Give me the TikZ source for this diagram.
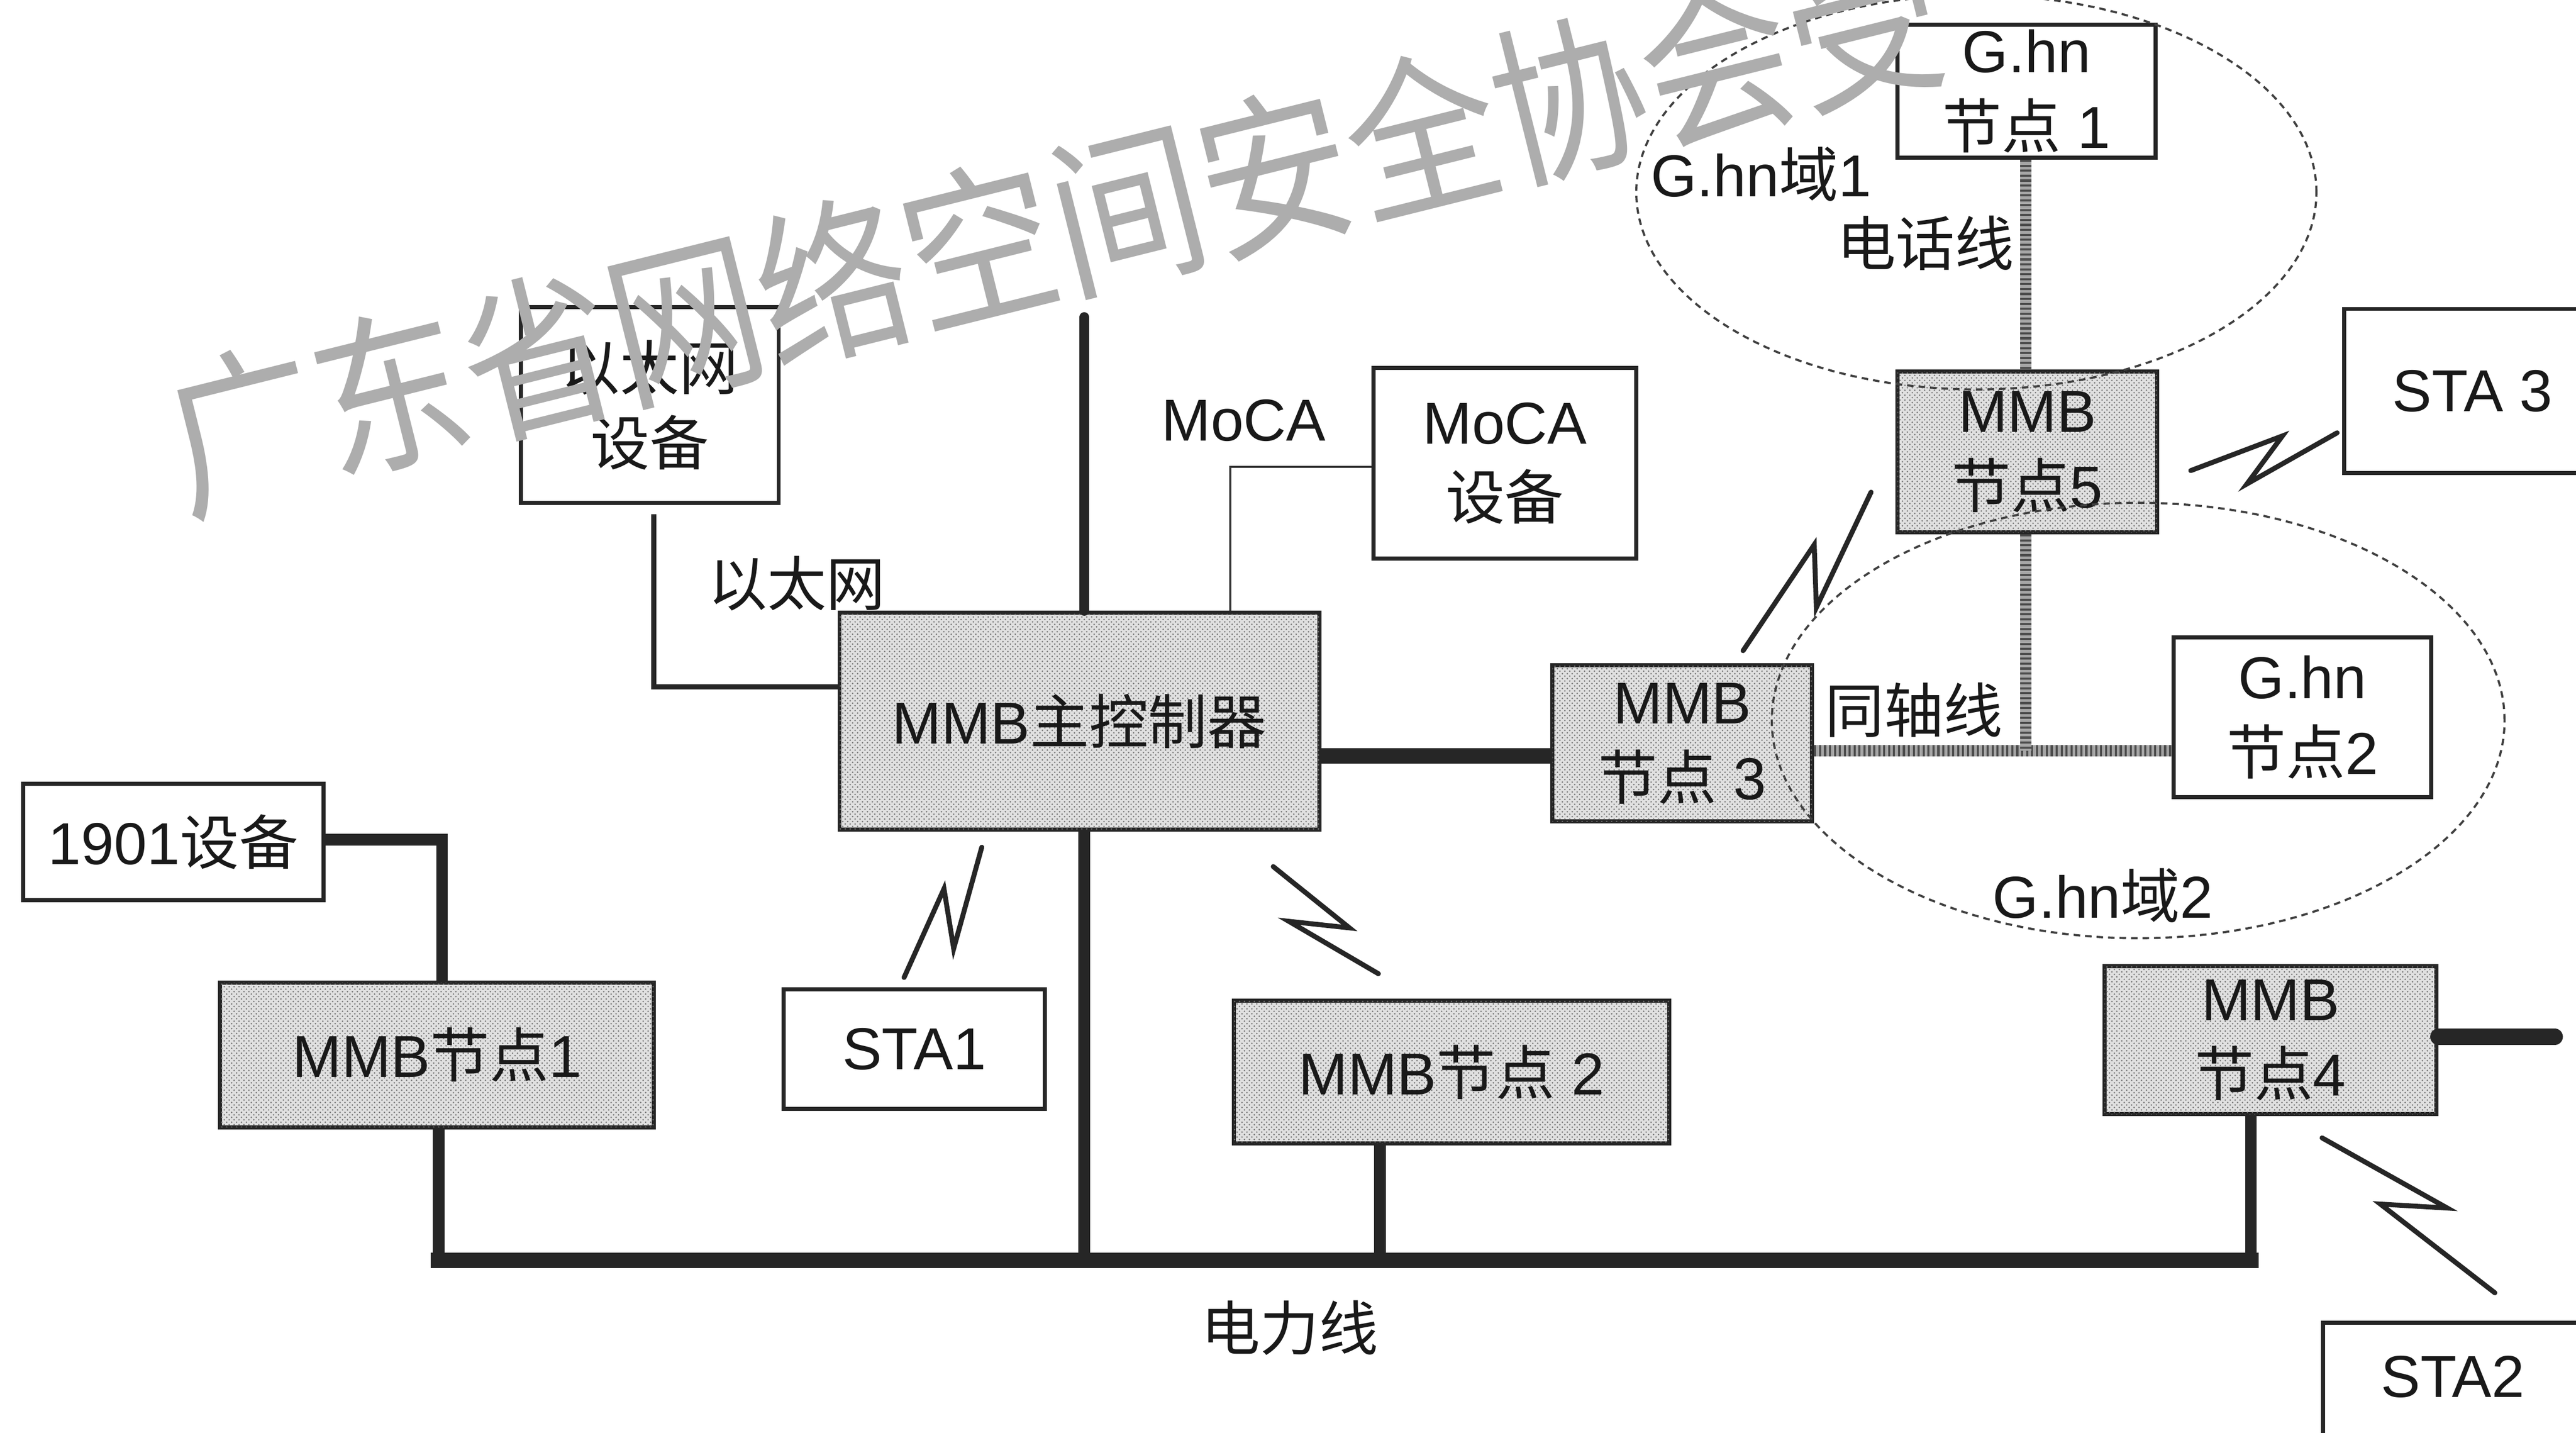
\documentclass[tikz,border=0pt]{standalone}
\usepackage{fontspec}
\setmainfont{Liberation Sans}
\newfontfamily\cjk{Noto Sans CJK SC}
\newfontfamily\cjkwm[FakeStretch=0.88]{Noto Sans CJK SC}
\usetikzlibrary{patterns,calc}
\newcommand\zh[1]{{\cjk #1}}
\begin{document}
\begin{tikzpicture}[x=1pt,y=-1pt,
  box/.style={draw=black!85, line width=2.5pt, fill=white, inner sep=0pt, align=center,
              font=\fontsize{36}{46}\selectfont, text=black!90},
  mmb/.style={box, fill=black!12, postaction={pattern=crosshatch dots, pattern color=black!55}},
  lbl/.style={inner sep=0pt, font=\fontsize{36}{46}\selectfont, text=black!90},
  power/.style={draw=black!85, line width=7pt, line join=miter},
  powerh/.style={draw=black!85, line width=9.5pt},
  ethline/.style={draw=black!85, line width=3pt},
  mocaline/.style={draw=black!80, line width=1.3pt},
  texline/.style={draw=black!35, line width=7pt, postaction={draw=black!70, line width=7pt, dash pattern=on 1.3pt off 1.7pt}},
  dom/.style={draw=black!75, line width=1.3pt, dash pattern=on 4pt off 3pt},
  bolt/.style={draw=black!85, line width=3pt, line join=miter, line cap=round},
  wm/.style={inner sep=0pt, font=\cjkwm\fontsize{105}{105}\selectfont, text=black!32}
]
\clip (0,0) rectangle (1568,872);
\fill[white] (0,0) rectangle (1568,872);

% ---- boxes ----
\node[box, minimum width=157pt, minimum height=119pt] (eth) at (395.5,246.5) {\zh{以太网}\\\zh{设备}};
\node[box, minimum width=160pt, minimum height=116pt] (moca) at (916,282) {MoCA\\\zh{设备}};
\node[mmb, minimum width=292pt, minimum height=132pt] (main) at (657,439) {MMB\zh{主控制器}};
\node[mmb, minimum width=158pt, minimum height=95pt] (n3) at (1024,452.5) {MMB\\\zh{节点} 3};
\node[box, minimum width=157pt, minimum height=97pt] (hn2) at (1401.5,436.5) {G.hn\\\zh{节点}2};
\node[box, minimum width=183pt, minimum height=71pt] (dev) at (105.5,512.5) {1901\zh{设备}};
\node[mmb, minimum width=264pt, minimum height=88pt] (n1) at (266,642) {MMB\zh{节点}1};
\node[box, minimum width=159pt, minimum height=73pt] (sta1) at (556.5,638.5) {STA1};
\node[mmb, minimum width=265pt, minimum height=87pt] (n2) at (883.5,652.5) {MMB\zh{节点} 2};
\node[mmb, minimum width=202pt, minimum height=90pt] (n4) at (1382,633) {MMB\\\zh{节点}4};
\node[box, minimum width=158pt, minimum height=140pt] (sta2) at (1493,875) {};
\node[lbl] (sta2t) at (1493,838) {STA2};
\node[box, minimum width=156pt, minimum height=100pt] (sta3) at (1505,238) {STA 3};
\node[mmb, minimum width=158pt, minimum height=98pt] (n5) at (1234,275) {MMB\\\zh{节点}5};
\node[box, minimum width=157pt, minimum height=81pt] (hn1) at (1233.5,55.5) {G.hn\\\zh{节点} 1};

% ---- coordinates ----
\coordinate (ethc) at (398,418);
\coordinate (ethtop) at (398,313);
\coordinate (mocaj) at (749,284);
\coordinate (mtop) at (660,193);
\coordinate (p1) at (267,767);
\coordinate (p2) at (660,767);
\coordinate (p3) at (840,767);
\coordinate (p4) at (1370,767);
\coordinate (c1901) at (269,511);
\coordinate (n4r) at (1555,631);
\coordinate (cj) at (1233,457);
\coordinate (m3) at (870,460);

% ---- wired connections ----
\draw[ethline] (ethtop) -- (ethc) -- (main.west |- ethc);
\draw[mocaline] (main.north -| mocaj) -- (mocaj) -- (moca.west |- mocaj);
\draw[power, line width=6pt, line cap=round] (mtop) -- (main.north -| mtop);
\draw[power] (main.south -| p2) -- (p2);
\draw[powerh] (main.east |- m3) -- (n3.west |- m3);
\draw[power] (dev.east |- c1901) -- (c1901) -- (n1.north -| c1901);
\draw[power] (n1.south -| p1) -- (p1);
\draw[power] (n2.south -| p3) -- (p3);
\draw[power] (n4.south -| p4) -- (p4);
\draw[powerh, line cap=rect] (p1) -- (p4);
\draw[powerh, line width=10pt, line cap=round] (n4.east |- n4r) -- (n4r);
\draw[texline] (n3.east |- cj) -- (hn2.west |- cj);
\draw[texline] (n5.south -| cj) -- (cj);
\draw[texline] (hn1.south -| cj) -- (n5.north -| cj);

% ---- G.hn domains ----
\draw[dom] (1203,117) ellipse [x radius=207pt, y radius=120pt];
\draw[dom] (1301.5,438.5) ellipse [x radius=223pt, y radius=132.5pt];

% ---- wireless links ----
\draw[bolt] (1061,396) -- (1104.3,331.5) -- (1105.6,369.7) -- (1138.9,299.5);
\draw[bolt] (1333.5,286.4) -- (1389.3,265.3) -- (1367.7,294.5) -- (1422.6,263.4);
\draw[bolt] (1413.4,692.5) -- (1489.6,735.2) -- (1448.9,732.8) -- (1518.6,786.8);
\draw[bolt] (775,527.4) -- (821.4,564.7) -- (784.5,560.7) -- (839,592.6);
\draw[bolt] (550.3,594.9) -- (574.6,540.9) -- (580.5,577.3) -- (597.6,515.6);

% ---- labels ----
\node[lbl] (lmoca) at (757,256) {MoCA};
\node[lbl] (leth) at (485,355) {\zh{以太网}};
\node[lbl] (lcoax) at (1165,432) {\zh{同轴线}};
\node[lbl] (ld2) at (1280,545) {G.hn\zh{域}2};
\node[lbl] (ld1) at (1072,106) {G.hn\zh{域}1};
\node[lbl] (lphone) at (1172,148) {\zh{电话线}};
\node[lbl] (lpower) at (785,808) {\zh{电力线}};

% ---- watermark ----
\node[wm, rotate=14, anchor=west] (wmark) at (103,272) {广东省网络空间安全协会受};
\end{tikzpicture}
\end{document}
